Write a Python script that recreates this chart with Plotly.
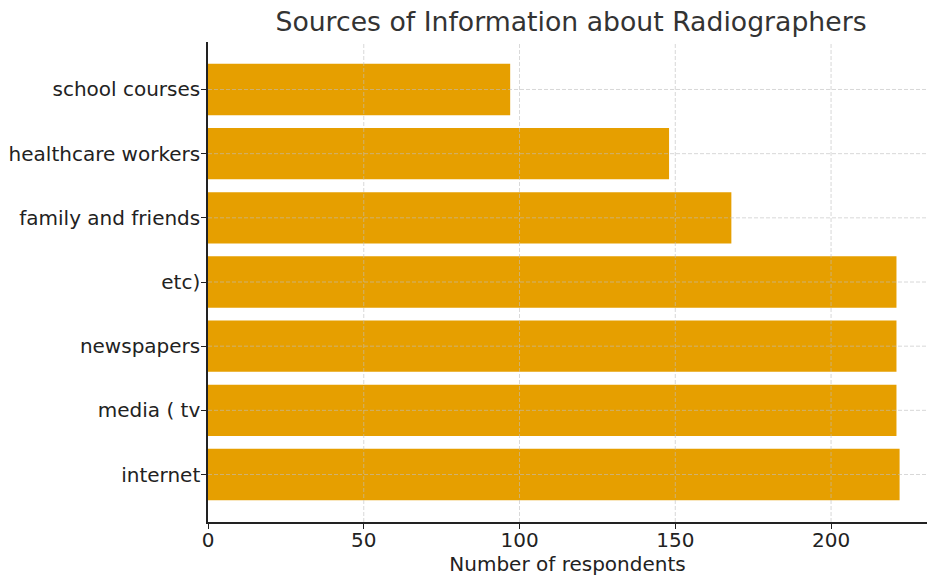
import plotly.graph_objects as go

# Survey counts per information source (bottom to top)
sources = ["internet", "media ( tv", "newspapers", "etc)",
           "family and friends", "healthcare workers", "school courses"]
respondents = [222, 221, 221, 221, 168, 148, 97]
x_ticks = [0, 50, 100, 150, 200]

BAR_COLOR = "#E69F00"
GRID_COLOR = "rgba(190,190,190,0.6)"
FONT = "DejaVu Sans"

fig = go.Figure(go.Bar(
    x=respondents,
    y=sources,
    orientation="h",
    marker=dict(color=BAR_COLOR, line=dict(width=0)),
))

# dashed grid drawn on top of the bars
for xv in x_ticks[1:]:
    fig.add_shape(type="line", xref="x", yref="paper", x0=xv, x1=xv, y0=0, y1=1,
                  line=dict(color=GRID_COLOR, width=1, dash="4px,2px"), layer="above")
for cat in sources:
    fig.add_shape(type="line", xref="paper", yref="y", x0=0, x1=1, y0=cat, y1=cat,
                  line=dict(color=GRID_COLOR, width=1, dash="4px,2px"), layer="above")

fig.update_layout(
    width=928, height=579,
    margin=dict(l=208, r=1, t=42, b=57),
    paper_bgcolor="white", plot_bgcolor="white",
    bargap=0.2,
    showlegend=False,
    font=dict(family=FONT, size=20, color="#222222"),
    title=dict(text="Sources of Information about Radiographers",
               x=(208 + 934) / 2 / 928, xanchor="center",
               y=1 - 22 / 579, yanchor="middle",
               font=dict(family=FONT, size=26.7, color="#333333")),
)
fig.update_xaxes(
    range=[0, 230.8],
    tickvals=x_ticks,
    ticks="outside", ticklen=5, tickcolor="#222222",
    ticklabelstandoff=-6,
    showline=True, linecolor="#222222", linewidth=1.5,
    showgrid=False, zeroline=False,
    title=dict(text="Number of respondents", standoff=6,
               font=dict(family=FONT, size=20, color="#222222")),
)
fig.update_yaxes(
    range=[-0.74, 6.74],
    ticks="outside", ticklen=5, tickcolor="#222222",
    ticklabelstandoff=-3,
    showline=True, linecolor="#222222", linewidth=1.5,
    showgrid=False, zeroline=False,
)

fig.write_html("out.html")
